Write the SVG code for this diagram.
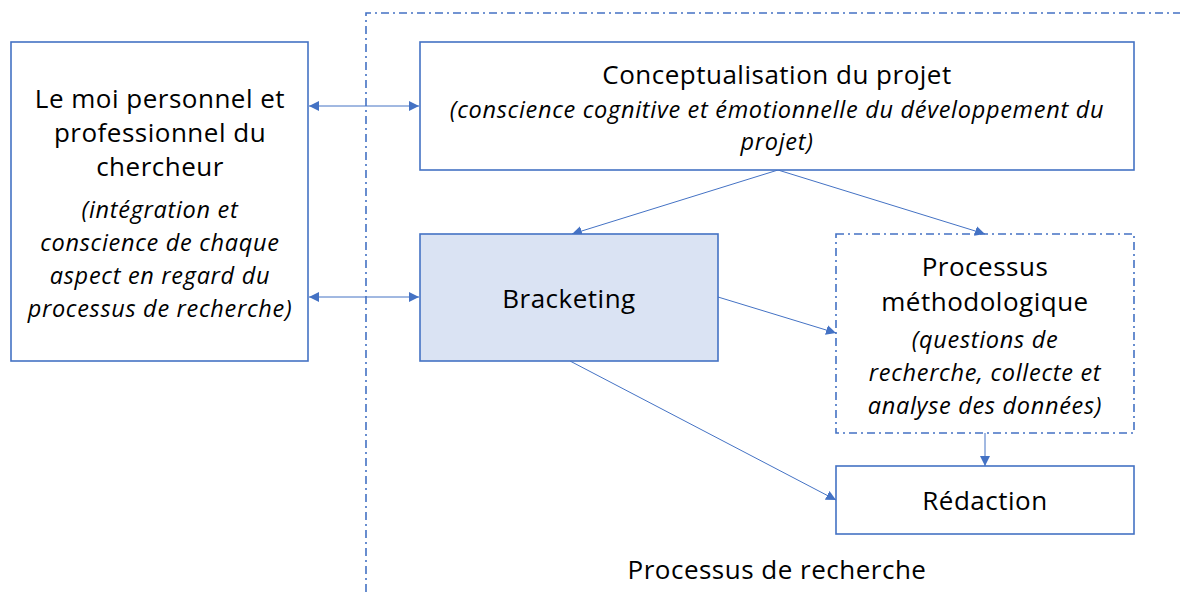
<svg xmlns="http://www.w3.org/2000/svg" width="1180" height="592" viewBox="0 0 1180 592">
<defs>
<style>
.box{fill:#ffffff;stroke:#4472c4;stroke-width:1.6}
.fill{fill:#dae3f3;stroke:#4472c4;stroke-width:1.6}
.dd{fill:none;stroke:#4472c4;stroke-width:1.6;stroke-dasharray:8 4 2 4}
.ln{fill:none;stroke:#4472c4;stroke-width:1}
.t{font-family:"Open Sans","Liberation Sans",sans-serif;font-size:26px;letter-spacing:0.5px;fill:#000;text-anchor:middle}
.i{font-family:"Open Sans","Liberation Sans",sans-serif;font-size:23.5px;letter-spacing:0.7px;font-style:italic;fill:#000;text-anchor:middle}
</style>
<marker id="ah" viewBox="0 0 10 10" refX="10" refY="5" markerWidth="10" markerHeight="10" markerUnits="userSpaceOnUse" orient="auto-start-reverse">
<path d="M0,0 L10,5 L0,10 z" fill="#4472c4"/>
</marker>
</defs>
<rect width="1180" height="592" fill="#ffffff"/>
<g id="boundary">
<path class="dd" d="M366,592 L366,13 L1180,13"/>
<text class="t" x="777" y="579">Processus de recherche</text>
</g>
<g id="connectors">
<line class="ln" x1="309" y1="106" x2="419" y2="106" marker-start="url(#ah)" marker-end="url(#ah)"/>
<line class="ln" x1="309" y1="297" x2="419" y2="297" marker-start="url(#ah)" marker-end="url(#ah)"/>
<line class="ln" x1="778" y1="170" x2="572" y2="234" marker-end="url(#ah)"/>
<line class="ln" x1="778" y1="170" x2="985" y2="234" marker-end="url(#ah)"/>
<line class="ln" x1="718" y1="297" x2="836" y2="333" marker-end="url(#ah)"/>
<line class="ln" x1="570" y1="361" x2="836" y2="500" marker-end="url(#ah)"/>
<line class="ln" x1="985" y1="433" x2="985" y2="466" marker-end="url(#ah)"/>
</g>
<g id="moi">
<rect class="box" x="11" y="42" width="297" height="319"/>
<text class="t" x="160" y="108">Le moi personnel et</text>
<text class="t" x="160" y="142">professionnel du</text>
<text class="t" x="160" y="176">chercheur</text>
<text class="i" x="160" y="218">(intégration et</text>
<text class="i" x="160" y="251">conscience de chaque</text>
<text class="i" x="160" y="284">aspect en regard du</text>
<text class="i" x="160" y="317">processus de recherche)</text>
</g>
<g id="conceptualisation">
<rect class="box" x="420" y="42" width="714" height="128"/>
<text class="t" x="777" y="84">Conceptualisation du projet</text>
<text class="i" x="777" y="118">(conscience cognitive et émotionnelle du développement du</text>
<text class="i" x="777" y="150">projet)</text>
</g>
<g id="bracketing">
<rect class="fill" x="420" y="234" width="298" height="127"/>
<text class="t" x="569" y="308">Bracketing</text>
</g>
<g id="methodo">
<rect class="dd" x="836" y="234" width="298" height="199"/>
<text class="t" x="985" y="276">Processus</text>
<text class="t" x="985" y="311">méthodologique</text>
<text class="i" x="985" y="348">(questions de</text>
<text class="i" x="985" y="381">recherche, collecte et</text>
<text class="i" x="985" y="414">analyse des données)</text>
</g>
<g id="redaction">
<rect class="box" x="836" y="466" width="298" height="68"/>
<text class="t" x="985" y="510">Rédaction</text>
</g>
</svg>
